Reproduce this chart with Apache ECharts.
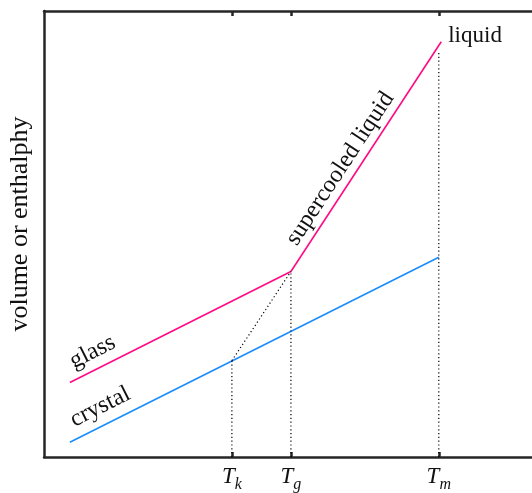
<!DOCTYPE html>
<html><head><meta charset="utf-8">
<script src="https://cdn.jsdelivr.net/npm/echarts@6/dist/echarts.min.js"></script>
<style>html,body{margin:0;padding:0;background:#fff}#c{width:532px;height:493px}</style>
</head><body><div id="c"></div>
<script>
// ---- data ----
const tickSubs = ['k', 'g', 'm'];
const tickValues = [38.5, 50.6, 80.9];          // T_k, T_g, T_m
const glassX = [5.3, 50.6];
const glassY = [16.7, 41.6];
const liquidX = [50.6, 81.4];
const liquidY = [41.6, 93.1];
const crystalX = [5.3, 80.9];
const crystalY = [3.3, 44.8];
const dropTopY = [21.6, 41.6, 91.1];            // top of dotted drop lines at T_k, T_g, T_m
const yName = 'volume or enthalphy';

const SERIF = '"Liberation Serif","DejaVu Serif",serif';
const chart = echarts.init(document.getElementById('c'), null, {renderer: 'canvas'});
const zip = (xs, ys) => xs.map((x, i) => [x, ys[i]]);
const dotted = {color: '#000', width: 1.2, type: [1.2, 2.6]};

const series = [
  {type: 'line', data: zip(glassX, glassY), symbol: 'none', lineStyle: {color: '#ff0a84', width: 1.6}, silent: true, z: 3},
  {type: 'line', data: zip(liquidX, liquidY), symbol: 'none', lineStyle: {color: '#ff0a84', width: 1.6}, silent: true, z: 3},
  {type: 'line', data: zip(crystalX, crystalY), symbol: 'none', lineStyle: {color: '#1a8cff', width: 1.6}, silent: true, z: 3},
  {type: 'line', data: [[tickValues[0], dropTopY[0]], [tickValues[1], dropTopY[1]]], symbol: 'none', lineStyle: dotted, silent: true}
];
tickValues.forEach((t, i) => {
  series.push({type: 'line', data: [[t, 0], [t, dropTopY[i]]], symbol: 'none', lineStyle: dotted, silent: true});
});

const axisLine = {show: true, onZero: false, lineStyle: {color: '#262626', width: 2.5}};
chart.setOption({
  animation: false,
  grid: {left: 44, right: 0, top: 11, bottom: 34},
  xAxis: [
    {type: 'value', min: 0, max: 100, position: 'bottom', axisLine,
     splitLine: {show: false},
     axisTick: {show: true, inside: true, length: 5, customValues: tickValues, lineStyle: {color: '#262626', width: 2.5}},
     axisLabel: {show: true, customValues: tickValues, margin: 8,
       formatter: v => { const i = tickValues.indexOf(v); return '{T|T}{s|' + tickSubs[i] + '}'; },
       rich: {
         T: {fontFamily: SERIF, fontStyle: 'italic', fontSize: 23, color: '#111', lineHeight: 24, verticalAlign: 'top'},
         s: {fontFamily: SERIF, fontStyle: 'italic', fontSize: 16, color: '#111', lineHeight: 15, padding: [12, 0, 0, 0], verticalAlign: 'top'}
       }}},
    {type: 'value', min: 0, max: 100, position: 'top', axisLine,
     splitLine: {show: false},
     axisTick: {show: true, inside: true, length: 5, customValues: tickValues, lineStyle: {color: '#262626', width: 2.5}},
     axisLabel: {show: false}}
  ],
  yAxis: {type: 'value', min: 0, max: 100, axisLine, axisTick: {show: false}, axisLabel: {show: false}, splitLine: {show: false}},
  series
});

// ---- text labels placed from data coordinates ----
function px(p) { return chart.convertToPixel({xAxisIndex: 0, yAxisIndex: 0}, p); }
function angleOf(xs, ys) {
  const a = px([xs[0], ys[0]]), b = px([xs[1], ys[1]]);
  return Math.atan2(a[1] - b[1], b[0] - a[0]);
}
const gA = angleOf(glassX, glassY), cA = angleOf(crystalX, crystalY), lA = angleOf(liquidX, liquidY);
const gP = px([glassX[0], glassY[0]]), cP = px([crystalX[0], crystalY[0]]);
const lP = px([liquidX[0], liquidY[0]]), tP = px([liquidX[1], liquidY[1]]);
function off(p, ang, along, perp) {
  return [p[0] + along * Math.cos(ang) - perp * Math.sin(ang), p[1] - along * Math.sin(ang) - perp * Math.cos(ang)];
}
const gT = off(gP, gA, 10, 5), cT = off(cP, cA, 11, 6), sT = off(lP, lA, 24, 3);
const font = sz => ({fontFamily: SERIF, fontSize: sz, fill: '#111'});
chart.setOption({graphic: [
  {type: 'text', x: gT[0], y: gT[1], rotation: gA, style: Object.assign(font(24), {text: 'glass', align: 'left', verticalAlign: 'bottom'})},
  {type: 'text', x: cT[0], y: cT[1], rotation: cA, style: Object.assign(font(24), {text: 'crystal', align: 'left', verticalAlign: 'bottom'})},
  {type: 'text', x: sT[0], y: sT[1], rotation: lA, style: Object.assign(font(24), {text: 'supercooled liquid', align: 'left', verticalAlign: 'bottom'})},
  {type: 'text', x: tP[0] + 7, y: tP[1] - 6, style: Object.assign(font(23), {text: 'liquid', align: 'left', verticalAlign: 'middle'})},
  {type: 'text', x: 20, y: 224, rotation: Math.PI / 2, style: Object.assign(font(26), {text: yName, align: 'center', verticalAlign: 'middle'})}
]});
</script>
</body></html>
